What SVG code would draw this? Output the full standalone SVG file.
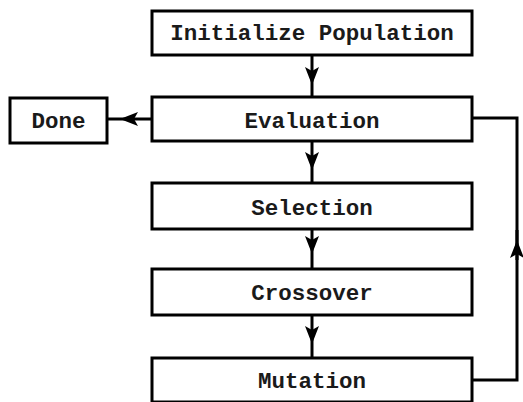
<svg xmlns="http://www.w3.org/2000/svg" width="523" height="402" viewBox="0 0 523 402">
<style>
.box{fill:#fff;stroke:#000;stroke-width:3}
.lbl{font-family:"Liberation Mono","Courier New",monospace;font-weight:bold;font-size:22.5px;fill:#1a1a1a;text-anchor:middle}
.conn{fill:none;stroke:#000;stroke-width:3;marker-mid:url(#ah)}
</style>
<defs>
<marker id="ah" markerUnits="userSpaceOnUse" viewBox="0 0 18 14" refX="18" refY="7" markerWidth="18" markerHeight="14" orient="auto">
<path d="M0,0 L18,7 L0,14 L4,7 Z" fill="#000"/>
</marker>
</defs>
<rect width="523" height="402" fill="#fff"/>
<g id="connectors">
<path class="conn" d="M312,55 L312,85 L312,97"/>
<path class="conn" d="M312,141 L312,170 L312,183"/>
<path class="conn" d="M312,229 L312,254 L312,269"/>
<path class="conn" d="M312,315 L312,344 L312,358"/>
<path class="conn" d="M152,119 L120,119 L107,119"/>
<path class="conn" d="M472,380 L517,380 L517,118 L472,118" style="marker-mid:none"/>
<path class="conn" d="M517,260 L517,240 L517,230"/>
</g>
<g id="init"><rect class="box" x="152" y="11" width="320" height="44"/><text class="lbl" x="312" y="40">Initialize Population</text></g>
<g id="eval"><rect class="box" x="152" y="97" width="320" height="44"/><text class="lbl" x="312" y="128">Evaluation</text></g>
<g id="done"><rect class="box" x="10" y="98" width="97" height="45"/><text class="lbl" x="58.5" y="128">Done</text></g>
<g id="sel"><rect class="box" x="152" y="183" width="320" height="46"/><text class="lbl" x="312" y="215">Selection</text></g>
<g id="cross"><rect class="box" x="152" y="269" width="320" height="46"/><text class="lbl" x="312" y="300">Crossover</text></g>
<g id="mut"><rect class="box" x="152" y="358" width="320" height="44"/><text class="lbl" x="312" y="388">Mutation</text></g>
</svg>
